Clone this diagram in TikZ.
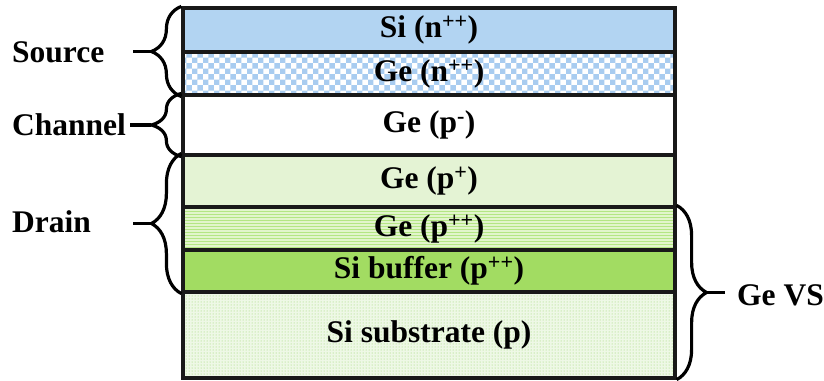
\documentclass[tikz,border=0pt]{standalone}
\usepackage{fontspec}
\setmainfont{Liberation Serif}
\usetikzlibrary{decorations.pathreplacing,patterns,calc}
\definecolor{sinblue}{HTML}{B2D4F2}
\definecolor{genblue}{HTML}{A8CCF0}
\definecolor{gepp}{HTML}{E4F3D4}
\definecolor{gestripebg}{HTML}{E2F5CC}
\definecolor{gestripe}{HTML}{B4E684}
\definecolor{sibuf}{HTML}{A2DC62}
\definecolor{subbg}{HTML}{EEF8E6}
\definecolor{subdot}{HTML}{96D466}
\tikzset{
  layer/.style={draw=black!90, line width=3.2pt, minimum width=492pt, inner sep=0pt,
    font=\bfseries\fontsize{31.5}{34}\selectfont},
  lab/.style={anchor=west, inner sep=0pt, font=\bfseries\fontsize{31.5}{34}\selectfont},
  brc/.style={decorate, decoration={brace, amplitude=30pt}, line width=3.2pt},
  stub/.style={line width=3.2pt}
}
\begin{document}
\begin{tikzpicture}[x=1pt,y=-1pt]
\useasboundingbox (0,0) rectangle (824,380);
\fill[white] (0,0) rectangle (824,380);
% layers
\node[layer, fill=sinblue, minimum height=44pt] (l1) at (429,30) {Si (n\textsuperscript{++})};
\node[layer, fill=white, minimum height=43pt] (l2) at (429,73.5) {};
\fill[pattern=checkerboard, pattern color=genblue] (l2.south west) rectangle (l2.north east);
\node[layer, minimum height=43pt] at (429,73.5) {Ge (n\textsuperscript{++})};
\node[layer, fill=white, minimum height=60pt] (l3) at (429,125) {Ge (p\textsuperscript{-})};
\node[layer, fill=gepp, minimum height=52pt] (l4) at (429,181) {Ge (p\textsuperscript{+})};
\node[layer, fill=gestripebg, minimum height=43pt] (l5) at (429,228.5) {};
\fill[pattern=horizontal lines, pattern color=gestripe] (l5.south west) rectangle (l5.north east);
\node[layer, minimum height=43pt] at (429,228.5) {Ge (p\textsuperscript{++})};
\node[layer, fill=sibuf, minimum height=42pt] (l6) at (429,271) {Si buffer (p\textsuperscript{++})};
\node[layer, fill=subbg, minimum height=86pt] (l7) at (429,335) {};
\fill[pattern=dots, pattern color=subdot] (l7.south west) rectangle (l7.north east);
\node[layer, minimum height=86pt] at (429,335) {Si substrate (p)};
% labels
\node[lab] (src) at (12,52) {Source};
\node[lab] (chn) at (12,125) {Channel};
\node[lab] (drn) at (12,222) {Drain};
\node[lab] (gvs) at (737,295) {Ge VS};
% braces
\draw[brc] (l2.south west) -- (l1.north west);
\draw[brc] (l3.south west) -- (l3.north west);
\draw[brc] (l6.south west) -- (l4.north west);
\draw[brc] (l5.north east) -- (l7.south east);
% stubs
\coordinate (t1) at ($(l2.south west)!0.5!(l1.north west)+(-30,0)$);
\coordinate (t2) at ($(l3.south west)!0.5!(l3.north west)+(-30,0)$);
\coordinate (t3) at ($(l6.south west)!0.5!(l4.north west)+(-30,0)$);
\coordinate (t4) at ($(l5.north east)!0.5!(l7.south east)+(30,0)$);
\coordinate (e1) at (133,52);
\coordinate (e2) at (130,125);
\coordinate (e3) at (133,222);
\coordinate (e4) at (725,295);
\draw[stub] (t1) -- (e1 |- t1);
\draw[stub] (t2) -- (e2 |- t2);
\draw[stub] (t3) -- (e3 |- t3);
\draw[stub] (t4) -- (e4 |- t4);
\end{tikzpicture}
\end{document}
